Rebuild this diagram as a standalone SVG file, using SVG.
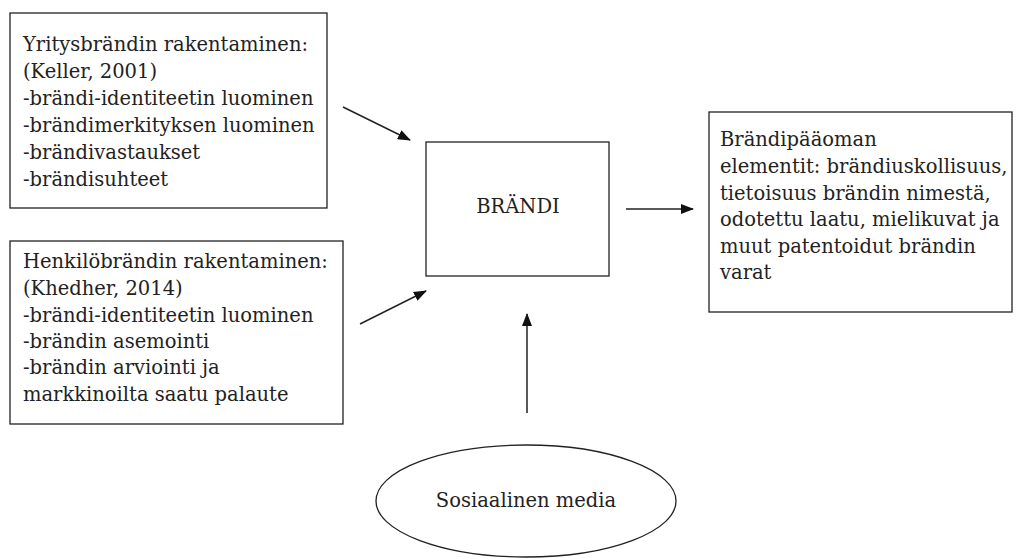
<svg xmlns="http://www.w3.org/2000/svg" width="1016" height="558" viewBox="0 0 1016 558">
<style>
.box{fill:#fff;stroke:#222;stroke-width:1.3}
.t{font-family:"DejaVu Serif","Liberation Serif",serif;font-size:19.5px;fill:#222}
.c{stroke:#222;stroke-width:1.5;fill:none}
</style>
<defs>
<marker id="ah" markerUnits="userSpaceOnUse" markerWidth="14" markerHeight="10" refX="12" refY="5" orient="auto">
<path d="M0,0 L13,5 L0,10 Z" fill="#111"/>
</marker>
</defs>
<rect width="1016" height="558" fill="#fff"/>
<g id="yritys">
<rect class="box" x="10" y="13" width="317" height="195"/>
<text class="t">
<tspan x="23" y="51">Yritysbrändin rakentaminen:</tspan>
<tspan x="23" y="78">(Keller, 2001)</tspan>
<tspan x="23" y="105">-brändi-identiteetin luominen</tspan>
<tspan x="23" y="132">-brändimerkityksen luominen</tspan>
<tspan x="23" y="159">-brändivastaukset</tspan>
<tspan x="23" y="186">-brändisuhteet</tspan>
</text>
</g>
<g id="henkilo">
<rect class="box" x="10" y="241" width="333" height="183"/>
<text class="t">
<tspan x="23" y="268">Henkilöbrändin rakentaminen:</tspan>
<tspan x="23" y="295">(Khedher, 2014)</tspan>
<tspan x="23" y="322">-brändi-identiteetin luominen</tspan>
<tspan x="23" y="348">-brändin asemointi</tspan>
<tspan x="23" y="374">-brändin arviointi ja</tspan>
<tspan x="23" y="401">markkinoilta saatu palaute</tspan>
</text>
</g>
<g id="brandi">
<rect class="box" x="426" y="142" width="183" height="134"/>
<text class="t" x="518" y="213" text-anchor="middle">BRÄNDI</text>
</g>
<g id="paaoma">
<rect class="box" x="709" y="112" width="303" height="200"/>
<text class="t">
<tspan x="720" y="146">Brändipääoman</tspan>
<tspan x="720" y="173">elementit: brändiuskollisuus,</tspan>
<tspan x="720" y="200">tietoisuus brändin nimestä,</tspan>
<tspan x="720" y="226">odotettu laatu, mielikuvat ja</tspan>
<tspan x="720" y="253">muut patentoidut brändin</tspan>
<tspan x="720" y="279">varat</tspan>
</text>
</g>
<g id="some">
<ellipse class="box" cx="526" cy="501" rx="150" ry="56"/>
<text class="t" x="526" y="507" text-anchor="middle">Sosiaalinen media</text>
</g>
<g id="connectors">
<line class="c" x1="343" y1="107" x2="410" y2="140" marker-end="url(#ah)"/>
<line class="c" x1="360" y1="324" x2="426" y2="291" marker-end="url(#ah)"/>
<line class="c" x1="527" y1="413" x2="527" y2="314" marker-end="url(#ah)"/>
<line class="c" x1="626" y1="209" x2="693" y2="209" marker-end="url(#ah)"/>
</g>
</svg>
